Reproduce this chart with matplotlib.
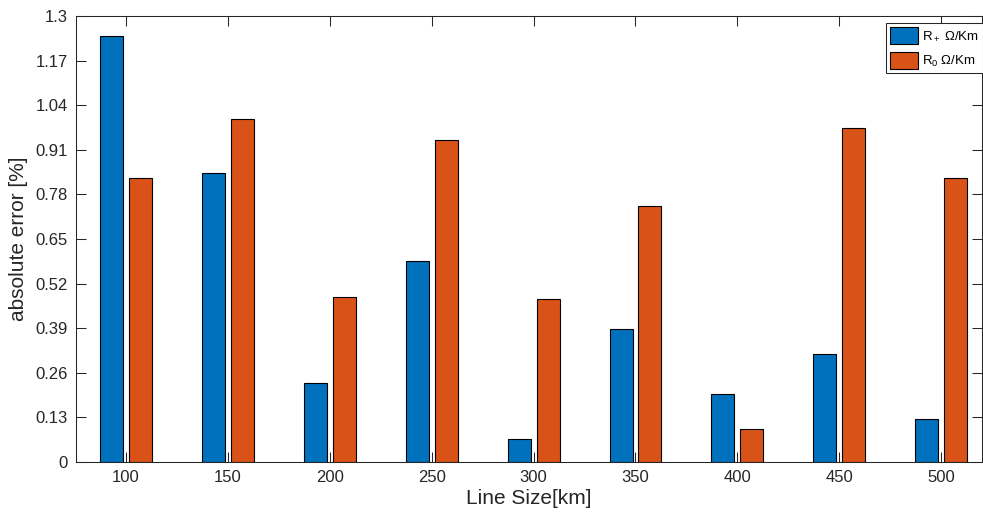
import matplotlib as mpl
mpl.use('Agg')
import matplotlib.pyplot as plt
import numpy as np

#
#--- line sizes [km] and absolute errors [%] for the two resistances
#
line_size = [100, 150, 200, 250, 300, 350, 400, 450, 500]
r_plus    = [1.243, 0.843, 0.230, 0.587, 0.067, 0.388, 0.197, 0.316, 0.124]
r_zero    = [0.827, 1.000, 0.480, 0.939, 0.475, 0.745, 0.097, 0.974, 0.829]
y_ticks   = [0, 0.13, 0.26, 0.39, 0.52, 0.65, 0.78, 0.91, 1.04, 1.17, 1.3]
labels    = [r'R$_+$ $\Omega$/Km', r'R$_0$ $\Omega$/Km']

blue   = '#0072BD'
orange = '#D95319'
axcol  = '#262626'

#---------------------------------------------------------------------------------------------------
#-- plot_errors: grouped bar plot of the absolute error against line size                         --
#---------------------------------------------------------------------------------------------------

def plot_errors(outname):

    mpl.rcParams['font.family']      = 'Liberation Sans'
    mpl.rcParams['mathtext.fontset'] = 'custom'
    mpl.rcParams['mathtext.rm']      = 'Liberation Sans'
    mpl.rcParams['mathtext.it']      = 'Liberation Sans'
    mpl.rcParams['axes.linewidth']   = 0.75

    fig = plt.figure(figsize=(9.83, 5.19), dpi=100)
    ax  = fig.add_axes([76/983., 57/519., 906/983., 446/519.])
#
#--- bar width and offset from the group centre in data units
#
    width  = 11.3
    offset = 7.1
    x = np.array(line_size, dtype=float)

    b1 = ax.bar(x - offset, r_plus, width, color=blue,   edgecolor='black', linewidth=0.8, zorder=3)
    b2 = ax.bar(x + offset, r_zero, width, color=orange, edgecolor='black', linewidth=0.8, zorder=3)

    ax.set_xlim(75.5, 520)
    ax.set_ylim(0, 1.3)
    ax.set_xticks(line_size)
    ax.set_xticklabels([str(v) for v in line_size])
    ax.set_yticks(y_ticks)
    ax.set_yticklabels(['0'] + [('%.2f' % v).rstrip('0') for v in y_ticks[1:]])

    ax.tick_params(direction='in', length=7, width=0.75, colors=axcol,
                   labelsize=12, top=True, right=True, pad=6)
    for sp in ax.spines.values():
        sp.set_color(axcol)

    ax.set_xlabel('Line Size[km]', fontsize=15, color=axcol, labelpad=3)
    ax.set_ylabel('absolute error [%]', fontsize=15, color=axcol, labelpad=5)
#
#--- legend at the upper right corner
#
    leg = fig.legend([b1, b2], labels, loc='upper left',
                     bbox_to_anchor=(886/983., 1 - 23/519.), fontsize=9.5,
                     frameon=True, fancybox=False, handlelength=2.1, handleheight=1.65,
                     handletextpad=0.35, borderpad=0.3, labelspacing=0.55,
                     borderaxespad=0)
    leg.get_frame().set_edgecolor(axcol)
    leg.get_frame().set_linewidth(0.75)
    leg.get_frame().set_alpha(1)

    plt.savefig(outname, format='png', dpi=100)
    plt.close('all')


if __name__ == '__main__':

    plot_errors('out.png')
